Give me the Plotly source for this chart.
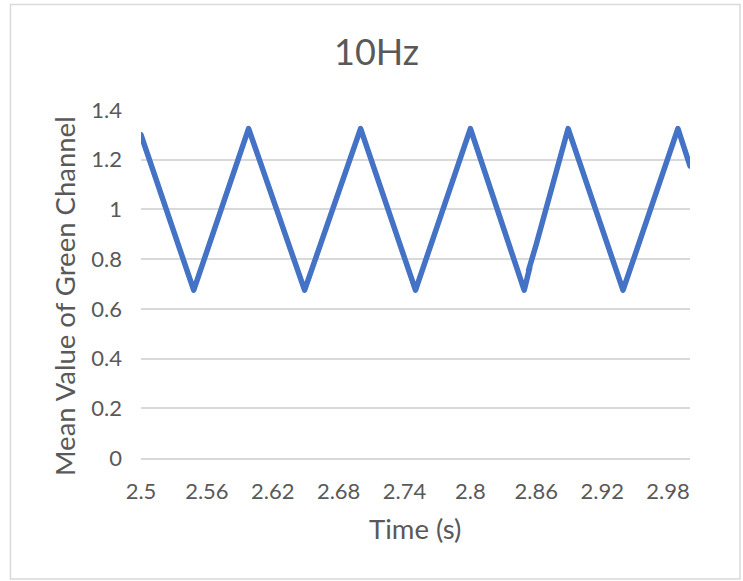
import plotly.graph_objects as go

# Sampled mean green-channel intensity over time (10 Hz flicker)
time_s = [2.500, 2.548, 2.598, 2.649, 2.700, 2.750, 2.800, 2.849,
          2.854, 2.853, 2.860, 2.889, 2.939, 2.989, 3.000]
green_mean = [1.300, 0.675, 1.325, 0.675, 1.325, 0.675, 1.325, 0.675,
              0.765, 0.755, 0.860, 1.325, 0.675, 1.325, 1.175]

x_ticks = [2.5, 2.56, 2.62, 2.68, 2.74, 2.8, 2.86, 2.92, 2.98]
x_tick_text = ["2.5", "2.56", "2.62", "2.68", "2.74", "2.8", "2.86", "2.92", "2.98"]
y_ticks = [0, 0.2, 0.4, 0.6, 0.8, 1.0, 1.2, 1.4]
y_tick_text = ["0", "0.2", "0.4", "0.6", "0.8", "1", "1.2", "1.4"]

FONT = "Lato, 'Open Sans', sans-serif"
TEXT = "#595959"
GRID = "#D9D9D9"
BLUE = "#4472C4"

W, H = 743, 581
L, R, T, B = 141, 53, 110, 123
pw, ph = W - L - R, H - T - B

def px_x(px):
    return (px - L) / pw

def px_y(py):
    return (H - B - py) / ph

fig = go.Figure(
    go.Scatter(
        x=time_s, y=green_mean, mode="lines",
        line=dict(color=BLUE, width=5.5),
        hoverinfo="skip", showlegend=False,
    )
)

fig.update_layout(
    width=W, height=H,
    margin=dict(l=L, r=R, t=T, b=B),
    paper_bgcolor="white", plot_bgcolor="white",
    font=dict(family=FONT, color=TEXT),
    showlegend=False,
    xaxis=dict(
        range=[2.5, 3.0], tickmode="array", tickvals=x_ticks, ticktext=x_tick_text,
        showgrid=False, zeroline=False, showline=True, linecolor=GRID, linewidth=1.5,
        ticks="", tickfont=dict(size=22, color=TEXT), ticklabelstandoff=13,
    ),
    yaxis=dict(
        range=[0, 1.4], tickmode="array", tickvals=y_ticks, ticktext=y_tick_text,
        showgrid=True, gridcolor=GRID, gridwidth=1.5, zeroline=False, showline=False,
        ticks="", tickfont=dict(size=22, color=TEXT), ticklabelstandoff=18,
    ),
    annotations=[
        dict(text="10Hz", xref="paper", yref="paper", x=px_x(376), y=px_y(51),
             xanchor="center", yanchor="middle", showarrow=False,
             font=dict(size=36, color=TEXT, family=FONT)),
        dict(text="Time (s)", xref="paper", yref="paper", x=px_x(415), y=px_y(528),
             xanchor="center", yanchor="middle", showarrow=False,
             font=dict(size=27.5, color=TEXT, family=FONT)),
        dict(text="Mean Value of Green Channel", xref="paper", yref="paper",
             x=px_x(64), y=px_y(296), textangle=-90,
             xanchor="center", yanchor="middle", showarrow=False,
             font=dict(size=27.5, color=TEXT, family=FONT)),
    ],
    shapes=[
        dict(type="rect", xref="paper", yref="paper",
             x0=px_x(10.5), x1=px_x(740), y0=px_y(579), y1=px_y(4.5),
             line=dict(color=GRID, width=1.5), fillcolor="rgba(0,0,0,0)", layer="below"),
    ],
)

round_joins = """
document.querySelectorAll('.scatterlayer path.js-line').forEach(function (p) {
  p.style.strokeLinejoin = 'round';
  p.style.strokeLinecap = 'round';
});
"""

fig.write_html("out.html", post_script=round_joins, config={"displayModeBar": False})
